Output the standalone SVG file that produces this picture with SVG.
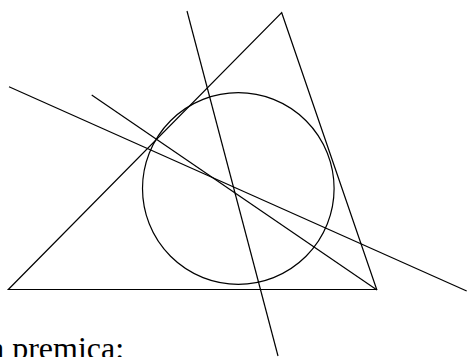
<svg xmlns="http://www.w3.org/2000/svg" width="467" height="357" viewBox="0 0 467 357">
<style>
.s{fill:none;stroke:#000;stroke-width:1.2}
.t{font-family:"Liberation Serif","DejaVu Serif",serif;font-size:32px;fill:#000}
</style>
<rect width="467" height="357" fill="#fff"/>
<g id="triangle"><polygon class="s" points="8.3,289.5 281.7,12.7 376.7,289.5"/></g>
<g id="circle"><circle class="s" cx="238.3" cy="188.5" r="95.8"/></g>
<g id="connectors">
<line class="s" x1="187" y1="11" x2="278" y2="356"/>
<line class="s" x1="9" y1="86.7" x2="466.7" y2="291"/>
<line class="s" x1="91.7" y1="95" x2="377" y2="290"/>
</g>
<g id="label"><text class="t" x="-10" y="358.5">a premica:</text></g>
</svg>
